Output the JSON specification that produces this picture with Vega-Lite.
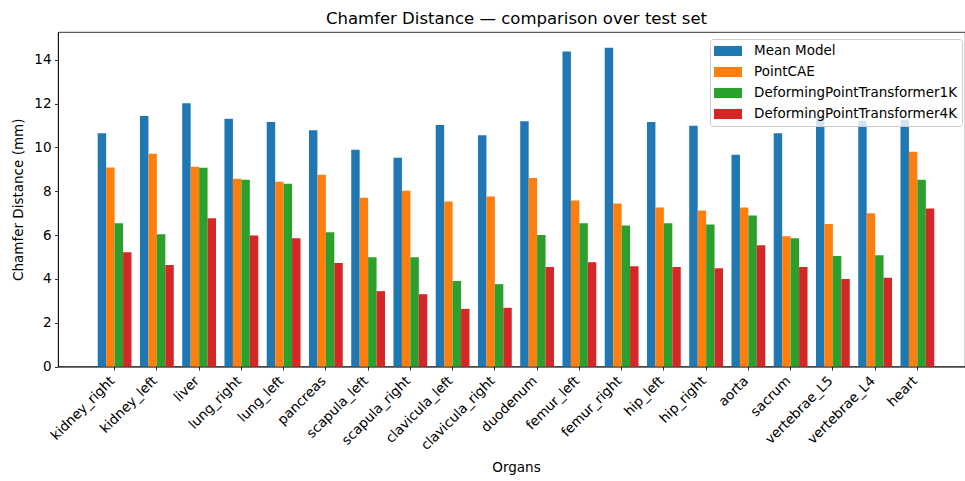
{
  "$schema": "https://vega.github.io/schema/vega-lite/v6.json",
  "autosize": {"type": "none"},
  "padding": {"left": 58, "top": 32, "right": 0, "bottom": 114},
  "width": 907,
  "height": 334.5,
  "background": "white",
  "title": {"text": "Chamfer Distance — comparison over test set", "font": "DejaVu Sans", "fontSize": 16.5, "fontWeight": "normal", "color": "#000", "anchor": "middle", "dx": 5, "offset": 5},
  "config": {
    "font": "DejaVu Sans",
    "view": {"stroke": "#000", "strokeWidth": 0.8},
    "axis": {"grid": false, "domainColor": "#000", "domainWidth": 0.8, "tickColor": "#000", "tickWidth": 0.8, "tickSize": 3.5, "labelPadding": 3.5, "labelColor": "#000", "labelFontSize": 13.5, "titleFontSize": 13.5, "titleColor": "#000", "titleFontWeight": "normal", "labelFont": "DejaVu Sans", "titleFont": "DejaVu Sans"}
  },
  "data": {"values": [
    {"organ": "kidney_right", "model": "Mean Model", "value": 10.65},
    {"organ": "kidney_right", "model": "PointCAE", "value": 9.09},
    {"organ": "kidney_right", "model": "DeformingPointTransformer1K", "value": 6.54},
    {"organ": "kidney_right", "model": "DeformingPointTransformer4K", "value": 5.22},
    {"organ": "kidney_left", "model": "Mean Model", "value": 11.43},
    {"organ": "kidney_left", "model": "PointCAE", "value": 9.71},
    {"organ": "kidney_left", "model": "DeformingPointTransformer1K", "value": 6.04},
    {"organ": "kidney_left", "model": "DeformingPointTransformer4K", "value": 4.63},
    {"organ": "liver", "model": "Mean Model", "value": 12.02},
    {"organ": "liver", "model": "PointCAE", "value": 9.12},
    {"organ": "liver", "model": "DeformingPointTransformer1K", "value": 9.07},
    {"organ": "liver", "model": "DeformingPointTransformer4K", "value": 6.77},
    {"organ": "lung_right", "model": "Mean Model", "value": 11.31},
    {"organ": "lung_right", "model": "PointCAE", "value": 8.57},
    {"organ": "lung_right", "model": "DeformingPointTransformer1K", "value": 8.52},
    {"organ": "lung_right", "model": "DeformingPointTransformer4K", "value": 5.98},
    {"organ": "lung_left", "model": "Mean Model", "value": 11.16},
    {"organ": "lung_left", "model": "PointCAE", "value": 8.43},
    {"organ": "lung_left", "model": "DeformingPointTransformer1K", "value": 8.34},
    {"organ": "lung_left", "model": "DeformingPointTransformer4K", "value": 5.86},
    {"organ": "pancreas", "model": "Mean Model", "value": 10.79},
    {"organ": "pancreas", "model": "PointCAE", "value": 8.75},
    {"organ": "pancreas", "model": "DeformingPointTransformer1K", "value": 6.13},
    {"organ": "pancreas", "model": "DeformingPointTransformer4K", "value": 4.72},
    {"organ": "scapula_left", "model": "Mean Model", "value": 9.89},
    {"organ": "scapula_left", "model": "PointCAE", "value": 7.70},
    {"organ": "scapula_left", "model": "DeformingPointTransformer1K", "value": 4.99},
    {"organ": "scapula_left", "model": "DeformingPointTransformer4K", "value": 3.44},
    {"organ": "scapula_right", "model": "Mean Model", "value": 9.53},
    {"organ": "scapula_right", "model": "PointCAE", "value": 8.02},
    {"organ": "scapula_right", "model": "DeformingPointTransformer1K", "value": 4.99},
    {"organ": "scapula_right", "model": "DeformingPointTransformer4K", "value": 3.30},
    {"organ": "clavicula_left", "model": "Mean Model", "value": 11.02},
    {"organ": "clavicula_left", "model": "PointCAE", "value": 7.53},
    {"organ": "clavicula_left", "model": "DeformingPointTransformer1K", "value": 3.90},
    {"organ": "clavicula_left", "model": "DeformingPointTransformer4K", "value": 2.63},
    {"organ": "clavicula_right", "model": "Mean Model", "value": 10.56},
    {"organ": "clavicula_right", "model": "PointCAE", "value": 7.76},
    {"organ": "clavicula_right", "model": "DeformingPointTransformer1K", "value": 3.76},
    {"organ": "clavicula_right", "model": "DeformingPointTransformer4K", "value": 2.68},
    {"organ": "duodenum", "model": "Mean Model", "value": 11.20},
    {"organ": "duodenum", "model": "PointCAE", "value": 8.61},
    {"organ": "duodenum", "model": "DeformingPointTransformer1K", "value": 6.00},
    {"organ": "duodenum", "model": "DeformingPointTransformer4K", "value": 4.54},
    {"organ": "femur_left", "model": "Mean Model", "value": 14.38},
    {"organ": "femur_left", "model": "PointCAE", "value": 7.58},
    {"organ": "femur_left", "model": "DeformingPointTransformer1K", "value": 6.54},
    {"organ": "femur_left", "model": "DeformingPointTransformer4K", "value": 4.76},
    {"organ": "femur_right", "model": "Mean Model", "value": 14.55},
    {"organ": "femur_right", "model": "PointCAE", "value": 7.44},
    {"organ": "femur_right", "model": "DeformingPointTransformer1K", "value": 6.44},
    {"organ": "femur_right", "model": "DeformingPointTransformer4K", "value": 4.58},
    {"organ": "hip_left", "model": "Mean Model", "value": 11.16},
    {"organ": "hip_left", "model": "PointCAE", "value": 7.26},
    {"organ": "hip_left", "model": "DeformingPointTransformer1K", "value": 6.54},
    {"organ": "hip_left", "model": "DeformingPointTransformer4K", "value": 4.54},
    {"organ": "hip_right", "model": "Mean Model", "value": 10.99},
    {"organ": "hip_right", "model": "PointCAE", "value": 7.12},
    {"organ": "hip_right", "model": "DeformingPointTransformer1K", "value": 6.48},
    {"organ": "hip_right", "model": "DeformingPointTransformer4K", "value": 4.49},
    {"organ": "aorta", "model": "Mean Model", "value": 9.67},
    {"organ": "aorta", "model": "PointCAE", "value": 7.26},
    {"organ": "aorta", "model": "DeformingPointTransformer1K", "value": 6.89},
    {"organ": "aorta", "model": "DeformingPointTransformer4K", "value": 5.54},
    {"organ": "sacrum", "model": "Mean Model", "value": 10.65},
    {"organ": "sacrum", "model": "PointCAE", "value": 5.95},
    {"organ": "sacrum", "model": "DeformingPointTransformer1K", "value": 5.86},
    {"organ": "sacrum", "model": "DeformingPointTransformer4K", "value": 4.54},
    {"organ": "vertebrae_L5", "model": "Mean Model", "value": 11.37},
    {"organ": "vertebrae_L5", "model": "PointCAE", "value": 6.50},
    {"organ": "vertebrae_L5", "model": "DeformingPointTransformer1K", "value": 5.04},
    {"organ": "vertebrae_L5", "model": "DeformingPointTransformer4K", "value": 4.00},
    {"organ": "vertebrae_L4", "model": "Mean Model", "value": 11.22},
    {"organ": "vertebrae_L4", "model": "PointCAE", "value": 7.00},
    {"organ": "vertebrae_L4", "model": "DeformingPointTransformer1K", "value": 5.08},
    {"organ": "vertebrae_L4", "model": "DeformingPointTransformer4K", "value": 4.05},
    {"organ": "heart", "model": "Mean Model", "value": 11.26},
    {"organ": "heart", "model": "PointCAE", "value": 9.80},
    {"organ": "heart", "model": "DeformingPointTransformer1K", "value": 8.52},
    {"organ": "heart", "model": "DeformingPointTransformer4K", "value": 7.21}
  ]},
  "mark": {"type": "bar", "stroke": null},
  "encoding": {
    "x": {"field": "organ", "type": "nominal", "sort": null, "title": "Organs",
      "scale": {"range": [0, 916], "paddingInner": 0.2, "paddingOuter": 0.94},
      "axis": {"labelAngle": -45, "labelAlign": "right", "labelBaseline": "top", "labelOffset": -7, "titlePadding": 8}},
    "xOffset": {"field": "model", "type": "nominal", "sort": null, "scale": {"paddingInner": 0, "paddingOuter": 0}},
    "y": {"field": "value", "type": "quantitative", "title": "Chamfer Distance (mm)",
      "scale": {"domain": [0, 15.27], "nice": false, "zero": true},
      "axis": {"values": [0, 2, 4, 6, 8, 10, 12, 14], "titlePadding": 8}},
    "color": {"field": "model", "type": "nominal", "sort": null,
      "scale": {"domain": ["Mean Model", "PointCAE", "DeformingPointTransformer1K", "DeformingPointTransformer4K"], "range": ["#1f77b4", "#ff7f0e", "#2ca02c", "#d62728"]},
      "legend": {"title": null, "orient": "none", "legendX": 652, "legendY": 7,
        "symbolType": "M-1,-0.36L1,-0.36L1,0.36L-1,0.36Z", "symbolSize": 784, "symbolStrokeWidth": 0, "symbolOpacity": 1,
        "clipHeight": 16, "rowPadding": 5, "labelOffset": 12, "labelFontSize": 13.5, "labelColor": "#000", "labelFont": "DejaVu Sans", "labelLimit": 400,
        "padding": 4, "fillColor": "rgba(255,255,255,0.8)", "strokeColor": "#cccccc", "cornerRadius": 3}}
  }
}
